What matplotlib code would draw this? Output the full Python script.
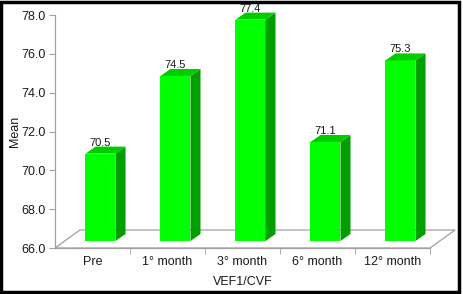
import matplotlib.pyplot as plt
from matplotlib.patches import Polygon, Rectangle
from matplotlib.transforms import IdentityTransform

plt.rcParams['font.family'] = ['Liberation Sans', 'DejaVu Sans']

categories = ["Pre", "1° month", "3° month", "6° month", "12° month"]
means = [70.5, 74.5, 77.4, 71.1, 75.3]

W, H = 464, 294
fig = plt.figure(figsize=(W / 100, H / 100), dpi=100)
ax = fig.add_axes([55 / W, 46 / H, 375 / W, 233 / H])
ax.set_xlim(0, len(categories))
ax.set_ylim(66, 78)

grey = "#a0a0a0"
txt = "#1a1a1a"
front_c, top_c, side_c = "#00ff00", "#00cc00", "#009f00"

# pixel offsets for the fake 3d look
floor_dx, floor_dy = 25, 18
bar_dx, bar_dy = 8, 7        # how far the bars sit into the floor
depth_dx, depth_dy = 10, 7   # bar depth
half_w = 15

idt = IdentityTransform()

def disp(x, y):
    return ax.transData.transform((x, y))

# floor
fl, fb = disp(0, 66)
fr, _ = disp(len(categories), 66)
floor = Polygon([(fl, fb), (fr, fb), (fr + floor_dx, fb + floor_dy), (fl + floor_dx, fb + floor_dy)],
                closed=True, facecolor="white", edgecolor=grey, lw=0.9,
                transform=idt, clip_on=False, zorder=1)
ax.add_patch(floor)

for i, v in enumerate(means):
    cx, y0 = disp(i + 0.5, 66)
    _, y1 = disp(i + 0.5, v)
    x0 = cx + bar_dx - half_w
    x1 = cx + bar_dx + half_w
    b = y0 + bar_dy
    t = y1 + bar_dy
    ax.add_patch(Polygon([(x0, b), (x1, b), (x1, t), (x0, t)], closed=True,
                         facecolor=front_c, edgecolor="none", transform=idt,
                         clip_on=False, zorder=3))
    ax.add_patch(Polygon([(x1, b), (x1 + depth_dx, b + depth_dy), (x1 + depth_dx, t + depth_dy), (x1, t)],
                         closed=True, facecolor=side_c, edgecolor="none", transform=idt,
                         clip_on=False, zorder=3))
    ax.add_patch(Polygon([(x0, t), (x1, t), (x1 + depth_dx, t + depth_dy), (x0 + depth_dx, t + depth_dy)],
                         closed=True, facecolor=top_c, edgecolor="none", transform=idt,
                         clip_on=False, zorder=3))
    ax.text(cx + bar_dx, t + depth_dy - 1, "%.1f" % v, transform=idt, ha="center", va="bottom",
            fontsize=8, color=txt, zorder=4)

# axes styling
for s in ["top", "right"]:
    ax.spines[s].set_visible(False)
ax.spines["left"].set_color(grey)
ax.spines["bottom"].set_color(grey)
ax.spines["left"].set_linewidth(0.9)
ax.spines["bottom"].set_linewidth(0.9)

ax.set_yticks([66, 68, 70, 72, 74, 76, 78])
ax.set_yticklabels(["%.1f" % t for t in [66, 68, 70, 72, 74, 76, 78]], fontsize=9, color=txt)
ax.tick_params(axis="y", length=4, color=grey, pad=3)

ax.set_xticks([i + 0.5 for i in range(len(categories))])
ax.set_xticklabels(categories, fontsize=9, color=txt)
ax.set_xticks(range(1, len(categories) + 1), minor=True)
ax.tick_params(axis="x", which="major", length=0, pad=5.5)
ax.tick_params(axis="x", which="minor", length=4, color=grey)

ax.set_ylabel("Mean", fontsize=9, color=txt, labelpad=0)
ax.set_xlabel("VEF1/CVF", fontsize=9, color=txt, labelpad=6)
ax.patch.set_visible(False)

# black frame round the picture
fig.patches.append(Rectangle((1.5 / W, 2.5 / H), (W - 6) / W, (H - 4) / H,
                             transform=fig.transFigure, fill=False, edgecolor="black",
                             lw=2.5, zorder=10))

fig.savefig("out.png", dpi=100)
